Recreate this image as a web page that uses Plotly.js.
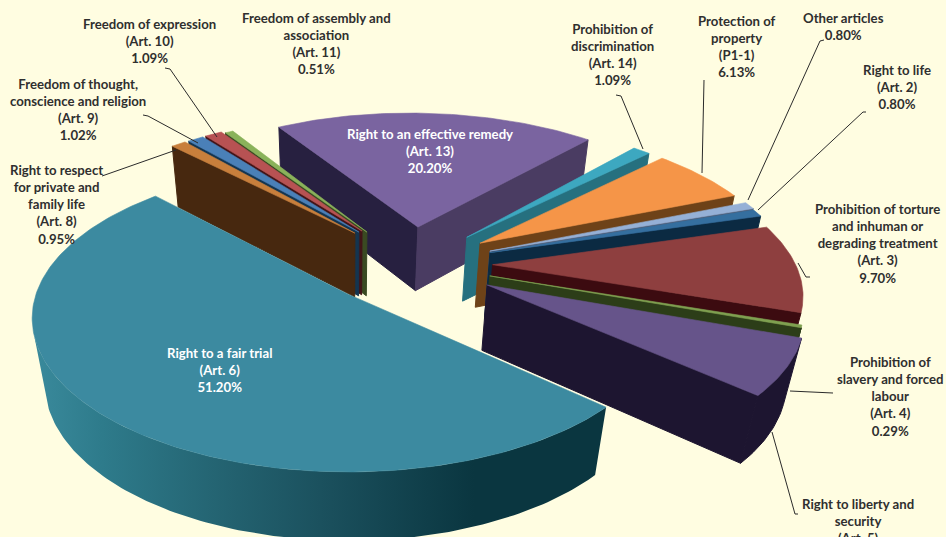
<!DOCTYPE html>
<html>
<head>
<meta charset="utf-8">
<script src="https://cdn.plot.ly/plotly-3.0.1.min.js"></script>
<style>html,body{margin:0;padding:0;background:#FFFDE1;overflow:hidden}#chart{width:946px;height:537px}</style>
</head>
<body>
<div id="chart"></div>
<script>
// Shares of violations by article, clockwise from the fair-trial slice.
const articleNames = [
  "Right to a fair trial", "Right to respect<br>for private and<br>family life",
  "Freedom of thought,<br>conscience and religion", "Freedom of expression",
  "Freedom of assembly and<br>association", "Right to an effective remedy",
  "Prohibition of<br>discrimination", "Protection of<br>property", "Other articles",
  "Right to life", "Prohibition of torture<br>and inhuman or<br>degrading treatment",
  "Prohibition of<br>slavery and forced<br>labour", "Right to liberty and<br>security"
];
const articleRefs = ["(Art. 6)","(Art. 8)","(Art. 9)","(Art. 10)","(Art. 11)","(Art. 13)","(Art. 14)","(P1-1)","","(Art. 2)","(Art. 3)","(Art. 4)","(Art. 5)"];
const shares = [51.20, 0.95, 1.02, 1.09, 0.51, 20.20, 1.09, 6.13, 0.80, 0.80, 9.70, 0.29, 6.22];

// Styling per slice.
const topColors  = ["#3C8AA0","#C87F3C","#4A80B8","#B75253","#8AB25A","#7A64A0","#3DA8C0","#F59548","#95B0D6","#356F9F","#8E3F3F","#7FA050","#66548A"];
const cutStart   = ["#3C8AA0","#47280F","#143550","#421418","#3A4A22","#272040","#26707F","#6E4218","#50607A","#0B2A42","#3C0B10","#2C3D18","#1D1530"];
const cutEnd     = ["#3C8AA0","#47280F","#143550","#421418","#3A4A22","#4A3C62","#26707F","#6E4218","#50607A","#0B2A42","#3C0B10","#2C3D18","#1D1530"];
const rimColors  = ["#20646F","#47280F","#143550","#421418","#3A4A22","#4A3C62","#26707F","#6E4218","#50607A","#0B2A42","#3C0B10","#2C3D18","#1D1530"];
// Explosion of each slice on the pie plane, in pie radii.
const pullX = [-0.005, 0.017, 0.031, 0.042, 0.059, 0.238, 0.405, 0.448, 0.478, 0.477, 0.480, 0.465, 0.452];
const pullY = [0.030,-0.414,-0.422,-0.430,-0.422,-0.461,-0.382,-0.337,-0.278,-0.266,-0.178,-0.098,-0.034];
// Back-to-front paint order.
const paintOrder = [5,6,7,8,9,10,11,12,4,3,2,1,0];
const startAngle = 42.3;

// Perspective view of the tilted pie.
const view = {cx:350, cy:290, ax:305, ay:146, depth:68, persp:0.15, sink:0.04, radius:1.02};
function project(X, Y, low) {
  const w = 1 - view.persp*Y + (low ? view.sink : 0);
  return [view.cx + view.ax*X/w, view.cy + (view.ay*Y + (low ? view.depth : 0))/w];
}
function ring(i, a) {
  const t = a*Math.PI/180;
  return [pullX[i] + view.radius*Math.cos(t), pullY[i] + view.radius*Math.sin(t)];
}
function area(p) {
  let s = 0;
  p.forEach((q, n) => { const r = p[(n+1)%p.length]; s += q[0]*r[1] - r[0]*q[1]; });
  return s/2;
}
const traces = [];
function face(points, color, gradient, edge) {
  const t = {
    x: points.map(p => p[0]).concat(points[0][0]),
    y: points.map(p => p[1]).concat(points[0][1]),
    mode: "lines", fill: "toself", hoverinfo: "skip", showlegend: false,
    line: {color: color, width: edge}, fillcolor: color
  };
  if (gradient) { t.fillgradient = gradient; t.line.width = 0; }
  traces.push(t);
}

let running = startAngle;
const spans = shares.map(v => { const s = [running, running + v*3.6]; running = s[1]; return s; });
const fairTrialRim = {type:"horizontal", colorscale:[[0,"#3A8A9C"],[0.12,"#2E7B8B"],[0.32,"#246472"],[0.52,"#1A4F5C"],[0.77,"#0A3640"],[1,"#0A3640"]]};

paintOrder.forEach(i => {
  const [a0, a1] = spans[i];
  const apex = [pullX[i], pullY[i]];
  const rim = [];
  for (let a = a0; ; a += 1) {
    const c = Math.min(a, a1);
    rim.push(ring(i, c));
    if (c >= a1) break;
  }
  const quad = (P, Q) => [project(P[0],P[1],0), project(Q[0],Q[1],0), project(Q[0],Q[1],1), project(P[0],P[1],1)];
  // cut faces
  const q1 = quad(apex, rim[0]);
  if (area(q1) < 0) face(q1, cutStart[i], null, 1);
  const q2 = quad(rim[rim.length-1], apex);
  if (area(q2) < 0) face(q2, cutEnd[i], null, 1);
  // outer wall, only the stretch that faces the viewer
  let run = [];
  const flush = () => {
    if (run.length > 1) {
      const up = run.map(p => project(p[0],p[1],0));
      const low = run.map(p => project(p[0],p[1],1)).reverse();
      face(up.concat(low), rimColors[i], i === 0 ? fairTrialRim : null, 1);
    }
    run = [];
  };
  for (let n = 0; n < rim.length-1; n++) {
    if (area(quad(rim[n], rim[n+1])) < 0) {
      if (!run.length) run.push(rim[n]);
      run.push(rim[n+1]);
    } else flush();
  }
  flush();
  // top face
  face([apex].concat(rim).map(p => project(p[0],p[1],0)), topColors[i], null, 0.6);
});

// Leader lines running from the outside labels to their slices.
const leaderX = [[165,170,217],[143,148,198],[102,176],[616,621,643],[704,702],[824,820,748],[866,863,758],[810,806,798],[833,790],[798,795,772]];
const leaderY = [[68,69,137],[115,116,143],[176,150],[95,96,149],[80,173],[40,41,200],[112,112,210],[277,277,263],[393,391],[514,514,432]];
leaderX.forEach((xs, n) => traces.push({x:xs, y:leaderY[n], mode:"lines", hoverinfo:"skip", showlegend:false, line:{color:"#2B2B2B", width:1}}));

// Label anchors, in plot units. The last label runs past the bottom of the frame.
const labelX = [219,56,78,149,316,430,612,737,843,897,877,890,858];
const labelY = [370,204,109,41,43,151,54,46,26,87,243,396,494];
const annotations = articleNames.map((name, i) => ({
  x: labelX[i], y: labelY[i], xref:"x", yref:"y", showarrow:false, align:"center",
  xanchor:"center", yanchor: i === 12 ? "top" : "middle",
  text: name + "<br>" + (articleRefs[i] ? articleRefs[i] : "") + (i === 12 ? "" : (articleRefs[i] ? "<br>" : "") + shares[i].toFixed(2) + "%"),
  font:{family:"Lato, 'Open Sans', sans-serif", size:13.2, weight:700, color:(i===0||i===5)?"#FFFFFF":"#2F2F2F"}
}));

Plotly.newPlot("chart", traces, {
  width:946, height:537, margin:{l:0,r:0,t:0,b:0},
  paper_bgcolor:"#FFFDE1", plot_bgcolor:"#FFFDE1", showlegend:false,
  xaxis:{range:[0,946], visible:false, fixedrange:true},
  yaxis:{range:[537,0], visible:false, fixedrange:true},
  annotations: annotations
}, {displayModeBar:false, staticPlot:true});
</script>
</body>
</html>
